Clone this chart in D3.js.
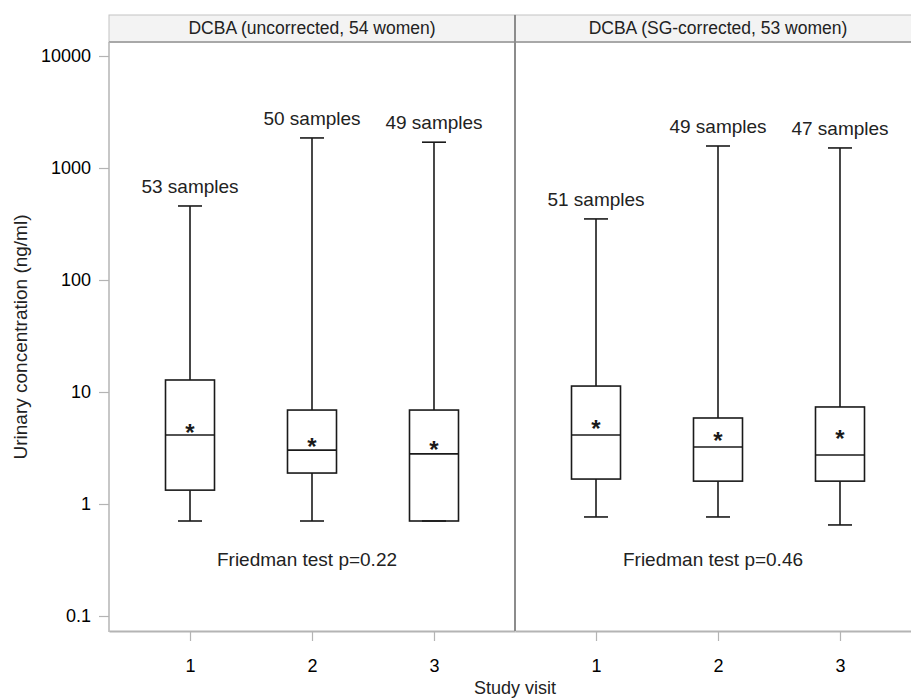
<!DOCTYPE html>
<html><head><meta charset="utf-8">
<script src="https://cdn.jsdelivr.net/npm/d3@7/dist/d3.min.js"></script>
<style>
html,body{margin:0;padding:0;background:#fff;}
svg{display:block;font-family:"Liberation Sans",Arial,sans-serif;}
</style></head>
<body><svg id="chart" width="911" height="700"></svg>
<script>
// ---- data ----
const visits = ["1", "2", "3"];
const panelTitles = ["DCBA (uncorrected, 54 women)", "DCBA (SG-corrected, 53 women)"];
const sampleLabels1 = ["53 samples", "50 samples", "49 samples"];
const sampleLabels2 = ["51 samples", "49 samples", "47 samples"];
const whiskerMin1 = [0.705, 0.705, 0.705];
const q1_1 = [1.33, 1.89, 0.705];
const median1 = [4.13, 3.03, 2.8];
const q3_1 = [12.8, 6.9, 6.9];
const whiskerMax1 = [458, 1855, 1700];
const mean1 = [4.7, 3.5, 3.3];
const whiskerMin2 = [0.766, 0.766, 0.65];
const q1_2 = [1.67, 1.60, 1.60];
const median2 = [4.13, 3.23, 2.74];
const q3_2 = [11.3, 5.86, 7.35];
const whiskerMax2 = [351, 1572, 1510];
const mean2 = [5.07, 3.97, 4.13];
const friedmanLabels = ["Friedman test p=0.22", "Friedman test p=0.46"];
const yTickValues = [0.1, 1, 10, 100, 1000, 10000];
const yTickLabels = ["0.1", "1", "10", "100", "1000", "10000"];

// ---- build ----
const panels = [
  {title: panelTitles[0], labels: sampleLabels1, lo: whiskerMin1, q1: q1_1, med: median1, q3: q3_1, hi: whiskerMax1, mean: mean1, test: friedmanLabels[0]},
  {title: panelTitles[1], labels: sampleLabels2, lo: whiskerMin2, q1: q1_2, med: median2, q3: q3_2, hi: whiskerMax2, mean: mean2, test: friedmanLabels[1]}
];

const svg = d3.select("#chart");
const plotLeft = 109, panelW = 406, headerTop = 15, plotTop = 42, plotBottom = 631;
const y = d3.scaleLog().domain([0.1, 10000]).range([616, 56]);
const boxW = 49, capW = 24;
const ink = "#1a1a1a", frame = "#b4b4b4";

panels.forEach((p, i) => {
  const left = plotLeft + i * panelW;
  const x = d3.scalePoint().domain(visits).range([left, left + panelW]).padding(0.664);
  const g = svg.append("g");

  // header strip
  g.append("rect").attr("x", left).attr("y", headerTop).attr("width", panelW).attr("height", plotTop - headerTop)
    .attr("fill", "#f3f3f3").attr("stroke", "#c4c4c4").attr("stroke-width", 1);
  g.append("line").attr("x1", left).attr("x2", left + panelW).attr("y1", plotTop).attr("y2", plotTop)
    .attr("stroke", "#a8a8a8").attr("stroke-width", 2);
  g.append("text").attr("x", left + panelW / 2).attr("y", plotTop - 8).attr("text-anchor", "middle")
    .attr("font-size", 17.5).attr("fill", "#222").text(p.title);

  // bottom axis
  const xAxis = d3.axisBottom(x).tickSize(10).tickSizeOuter(0);
  const ax = g.append("g").attr("transform", `translate(0,${plotBottom})`).call(xAxis);
  ax.select(".domain").attr("stroke", frame).attr("stroke-width", 2);
  ax.selectAll(".tick line").attr("stroke", frame).attr("stroke-width", 1.2);
  ax.selectAll(".tick text").attr("font-size", 18).attr("font-family", "Liberation Sans, Arial, sans-serif")
    .attr("fill", "#000").attr("dy", "1.55em");

  const data = visits.map((v, j) => ({v, lo: p.lo[j], q1: p.q1[j], med: p.med[j], q3: p.q3[j], hi: p.hi[j], mean: p.mean[j], label: p.labels[j]}));
  const b = g.selectAll(".box").data(data).join("g").attr("class", "box");

  // whiskers
  b.append("line").attr("x1", d => x(d.v)).attr("x2", d => x(d.v)).attr("y1", d => y(d.hi)).attr("y2", d => y(d.q3))
    .attr("stroke", ink).attr("stroke-width", 1.6);
  b.append("line").attr("x1", d => x(d.v)).attr("x2", d => x(d.v)).attr("y1", d => y(d.q1)).attr("y2", d => y(d.lo))
    .attr("stroke", ink).attr("stroke-width", 1.6);
  b.append("line").attr("x1", d => x(d.v) - capW / 2).attr("x2", d => x(d.v) + capW / 2).attr("y1", d => y(d.hi)).attr("y2", d => y(d.hi))
    .attr("stroke", ink).attr("stroke-width", 1.6);
  b.append("line").attr("x1", d => x(d.v) - capW / 2).attr("x2", d => x(d.v) + capW / 2).attr("y1", d => y(d.lo)).attr("y2", d => y(d.lo))
    .attr("stroke", ink).attr("stroke-width", 1.6);
  // box
  b.append("rect").attr("x", d => x(d.v) - boxW / 2).attr("width", boxW)
    .attr("y", d => y(d.q3)).attr("height", d => y(d.q1) - y(d.q3))
    .attr("fill", "none").attr("stroke", ink).attr("stroke-width", 1.6);
  b.append("line").attr("x1", d => x(d.v) - boxW / 2).attr("x2", d => x(d.v) + boxW / 2).attr("y1", d => y(d.med)).attr("y2", d => y(d.med))
    .attr("stroke", ink).attr("stroke-width", 1.6);
  // mean asterisk
  b.append("text").attr("x", d => x(d.v)).attr("y", d => y(d.mean) + 12).attr("text-anchor", "middle")
    .attr("font-size", 24).attr("font-weight", "bold").attr("fill", ink).text("*");
  // sample labels
  b.append("text").attr("x", d => x(d.v)).attr("y", d => y(d.hi) - 13).attr("text-anchor", "middle")
    .attr("font-size", 19).attr("fill", "#222").text(d => d.label);

  // friedman text
  g.append("text").attr("x", x("2") - 5).attr("y", y(0.28)).attr("text-anchor", "middle")
    .attr("font-size", 19).attr("fill", "#222").text(p.test);
});

// panel borders
svg.append("line").attr("x1", plotLeft).attr("x2", plotLeft).attr("y1", plotTop).attr("y2", plotBottom + 1)
  .attr("stroke", frame).attr("stroke-width", 1.5);
svg.append("line").attr("x1", plotLeft + panelW).attr("x2", plotLeft + panelW).attr("y1", headerTop).attr("y2", plotBottom)
  .attr("stroke", "#8c8c8c").attr("stroke-width", 2);

// y axis
const yAxis = d3.axisLeft(y).tickValues(yTickValues).tickFormat((d, k) => yTickLabels[k]).tickSize(10).tickSizeOuter(0);
const ya = svg.append("g").attr("transform", `translate(${plotLeft},0)`).call(yAxis);
ya.select(".domain").remove();
ya.selectAll(".tick line").attr("stroke", frame).attr("stroke-width", 1.2);
ya.selectAll(".tick text").attr("font-size", 18).attr("font-family", "Liberation Sans, Arial, sans-serif")
  .attr("fill", "#000").attr("x", -18);

// axis titles
svg.append("text").attr("transform", "translate(27,337) rotate(-90)").attr("text-anchor", "middle")
  .attr("font-size", 19).attr("fill", "#222").text("Urinary concentration (ng/ml)");
svg.append("text").attr("x", plotLeft + panelW).attr("y", 694).attr("text-anchor", "middle")
  .attr("font-size", 18).attr("fill", "#222").text("Study visit");
</script></body></html>
